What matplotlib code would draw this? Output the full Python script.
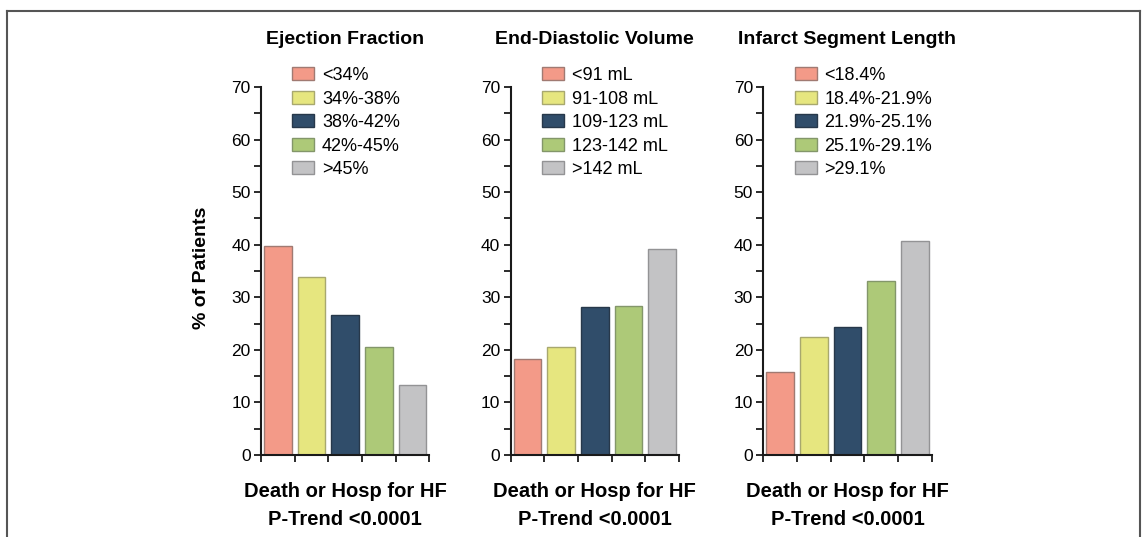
import numpy as np
import matplotlib.pyplot as plt
from matplotlib.lines import Line2D
from matplotlib.patches import Patch

plt.rcParams['font.family'] = ['Liberation Sans', 'DejaVu Sans']

# data
titles = ['Ejection Fraction', 'End-Diastolic Volume', 'Infarct Segment Length']
ef_labels = ['<34%', '34%-38%', '38%-42%', '42%-45%', '>45%']
edv_labels = ['<91 mL', '91-108 mL', '109-123 mL', '123-142 mL', '>142 mL']
isl_labels = ['<18.4%', '18.4%-21.9%', '21.9%-25.1%', '25.1%-29.1%', '>29.1%']
ef_values = [39.7, 33.9, 26.6, 20.6, 13.4]
edv_values = [18.3, 20.6, 28.1, 28.3, 39.1]
isl_values = [15.7, 22.4, 24.4, 33.1, 40.8]
outcome_text = ['Death or Hosp for HF', 'P-Trend <0.0001']

colors = ['#f39a88', '#e6e67f', '#304d6a', '#adc978', '#c3c3c5']
edges = ['#a07a72', '#a8a86e', '#27384a', '#83966a', '#939395']

W, H = 1145, 537
fig = plt.figure(figsize=(W / 100, H / 100), dpi=100)

axes_left_px = [261, 510.7, 763.3]
ax_w_px = 168.3
ax_bottom_px = 455
ax_top_px = 87

panels = [
    (titles[0], ef_labels, ef_values),
    (titles[1], edv_labels, edv_values),
    (titles[2], isl_labels, isl_values),
]

for i, (title, labels, values) in enumerate(panels):
    ax = fig.add_axes([axes_left_px[i] / W, 1 - ax_bottom_px / H,
                       ax_w_px / W, (ax_bottom_px - ax_top_px) / H])
    x = np.arange(len(values)) + 0.5
    ax.bar(x, values, width=0.82, color=colors, edgecolor=edges, linewidth=1.0)

    ax.set_xlim(0, 5)
    ax.set_ylim(0, 70)
    ax.set_xticks(np.arange(0, 6))
    ax.set_xticklabels([])
    ax.set_yticks(np.arange(0, 71, 10))
    ax.set_yticks(np.arange(5, 70, 10), minor=True)
    ax.tick_params(axis='both', which='both', direction='out', length=5,
                   width=1.3, color='#1a1a1a', labelsize=12.5, pad=2.5)
    for s in ['top', 'right']:
        ax.spines[s].set_visible(False)
    for s in ['left', 'bottom']:
        ax.spines[s].set_linewidth(1.5)
        ax.spines[s].set_color('#1a1a1a')

    ax.text(0.5, 1.128, title, transform=ax.transAxes, ha='center', va='center',
            fontsize=14, fontweight='bold')
    ax.text(0.5, -0.1005, outcome_text[0], transform=ax.transAxes, ha='center',
            va='center', fontsize=14.5, fontweight='bold')
    ax.text(0.5, -0.1766, outcome_text[1], transform=ax.transAxes, ha='center',
            va='center', fontsize=14.5, fontweight='bold')

    handles = [Patch(facecolor=c, edgecolor=e, linewidth=1.0)
               for c, e in zip(colors, edges)]
    ax.legend(handles, labels, loc='upper left', bbox_to_anchor=(0.186, 1.054),
              frameon=False, fontsize=13, handlelength=1.22, handleheight=0.72,
              handletextpad=0.42, labelspacing=0.36, borderpad=0, borderaxespad=0)

    if i == 0:
        ax.set_ylabel('% of Patients', fontsize=14, fontweight='bold')
        ax.yaxis.set_label_coords(-0.306, 0.51)

# outer frame lines (top, left, right)
frame_kw = dict(color='#555555', linewidth=1.5, transform=fig.transFigure)
fig.add_artist(Line2D([7 / W, 1140 / W], [1 - 11 / H, 1 - 11 / H], **frame_kw))
fig.add_artist(Line2D([7 / W, 7 / W], [1 - 11 / H, 0], **frame_kw))
fig.add_artist(Line2D([1140 / W, 1140 / W], [1 - 11 / H, 0], **frame_kw))

fig.savefig('out.png', dpi=100, facecolor='white')
